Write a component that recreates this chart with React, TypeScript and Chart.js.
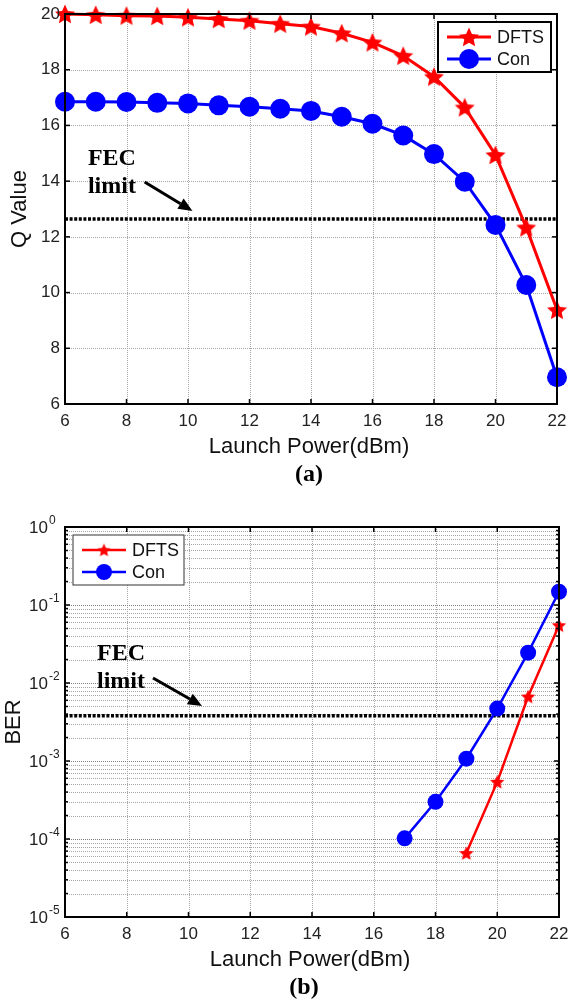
import React, { useEffect, useRef } from 'react';
import { Chart, registerables } from 'chart.js';

Chart.register(...registerables);

// ---------- data ----------
const powers = [6, 7, 8, 9, 10, 11, 12, 13, 14, 15, 16, 17, 18, 19, 20, 21, 22];
const xTicks = [6, 8, 10, 12, 14, 16, 18, 20, 22];
const qTicks = [6, 8, 10, 12, 14, 16, 18, 20];
const berExps = [-5, -4, -3, -2, -1, 0];
const seriesNames = ['DFTS', 'Con'];

const qDFTS = [20.0, 19.97, 19.94, 19.93, 19.88, 19.82, 19.76, 19.65, 19.55, 19.31, 18.98, 18.5, 17.75, 16.65, 14.94, 12.34, 9.38];
const qCon = [16.85, 16.85, 16.84, 16.81, 16.79, 16.72, 16.67, 16.6, 16.52, 16.31, 16.06, 15.64, 14.97, 13.98, 12.43, 10.27, 6.96];

const berDFTS: (number | null)[] = [null, null, null, null, null, null, null, null, null, null, null, null, null, 6.6e-5, 5.4e-4, 6.7e-3, 5.5e-2];
const berCon: (number | null)[] = [null, null, null, null, null, null, null, null, null, null, null, 1.02e-4, 3.0e-4, 1.07e-3, 4.7e-3, 2.45e-2, 0.148];

const qFec = 12.64;
const berFec = 3.8e-3;

const xTitle = 'Launch Power(dBm)';
const qTitle = 'Q Value';
const berTitle = 'BER';

// ---------- styles ----------
const SANS = '"Liberation Sans", Arial, sans-serif';
const SERIF = '"Liberation Serif", "Times New Roman", serif';
const RED = '#ff0000';
const BLUE = '#0000ff';
const W = 571;

function makeStar(size: number, color: string): HTMLCanvasElement {
  const c = document.createElement('canvas');
  c.width = size;
  c.height = size;
  const g = c.getContext('2d')!;
  const cx = size / 2;
  const cy = size / 2 + size * 0.04;
  const R = size / 2 - 0.5;
  const r = R * 0.47;
  g.beginPath();
  for (let i = 0; i < 10; i++) {
    const a = -Math.PI / 2 + (i * Math.PI) / 5;
    const rad = i % 2 === 0 ? R : r;
    g.lineTo(cx + rad * Math.cos(a), cy + rad * Math.sin(a));
  }
  g.closePath();
  g.fillStyle = color;
  g.fill();
  return c;
}

function toPoints(vals: (number | null)[]) {
  const out: { x: number; y: number }[] = [];
  vals.forEach((v, i) => {
    if (v !== null) out.push({ x: powers[i], y: v });
  });
  return out;
}

type PanelCfg = {
  height: number;
  padTop: number;
  log: boolean;
  dfts: (number | null)[];
  con: (number | null)[];
  fec: number;
  yTitle: string;
  yTitleX: number;
  caption: string;
  captionX: number;
  starSize: number;
  legendStarSize: number;
  circleR: number;
  legendCircleR: number;
  lineW: number;
  fecText: { x: number; y1: number; y2: number };
  arrow: { x1: number; y1: number; x2: number; y2: number };
  legend: 'right' | 'left';
};

function drawLine(ctx: CanvasRenderingContext2D, x1: number, y1: number, x2: number, y2: number) {
  ctx.beginPath();
  ctx.moveTo(x1, y1);
  ctx.lineTo(x2, y2);
  ctx.stroke();
}

function buildConfig(p: PanelCfg): any {
  const star = makeStar(p.starSize, RED);
  const legendStar = makeStar(p.legendStarSize, RED);

  const yGridVals: { v: number; major: boolean }[] = [];
  if (p.log) {
    for (const e of berExps) {
      if (e === 0) {
        yGridVals.push({ v: 1, major: true });
        continue;
      }
      for (let m = 1; m <= 9; m++) yGridVals.push({ v: m * Math.pow(10, e), major: m === 1 });
    }
  } else {
    for (const v of qTicks) yGridVals.push({ v, major: true });
  }

  const plugin = {
    id: 'panelDecor',
    beforeDatasetsDraw(chart: any) {
      const { ctx, chartArea: a, scales } = chart;
      const xs = scales.x;
      const ys = scales.y;
      ctx.save();
      ctx.lineWidth = 1;
      ctx.setLineDash([1, 1]);
      ctx.strokeStyle = '#a6a6a6';
      for (const v of xTicks) {
        const px = Math.round(xs.getPixelForValue(v)) + 0.5;
        drawLine(ctx, px, a.top, px, a.bottom);
      }
      for (const g of yGridVals) {
        const py = Math.round(ys.getPixelForValue(g.v)) + 0.5;
        ctx.strokeStyle = p.log && g.major ? '#808080' : '#a6a6a6';
        drawLine(ctx, a.left, py, a.right, py);
      }
      ctx.restore();
    },
    afterDraw(chart: any) {
      const { ctx, chartArea: a, scales } = chart;
      const xs = scales.x;
      const ys = scales.y;
      ctx.save();
      ctx.setLineDash([]);

      // tick marks (inside)
      ctx.strokeStyle = '#000';
      ctx.lineWidth = 1.5;
      for (const v of xTicks) {
        const px = xs.getPixelForValue(v);
        drawLine(ctx, px, a.bottom, px, a.bottom - 5);
        drawLine(ctx, px, a.top, px, a.top + 5);
      }
      for (const g of yGridVals) {
        const py = ys.getPixelForValue(g.v);
        const len = g.major ? 5 : 3;
        drawLine(ctx, a.left, py, a.left + len, py);
        drawLine(ctx, a.right, py, a.right - len, py);
      }

      // box
      ctx.lineWidth = 2;
      ctx.strokeRect(a.left, a.top, a.right - a.left, a.bottom - a.top);

      // tick labels
      ctx.fillStyle = '#222';
      ctx.font = `17px ${SANS}`;
      ctx.textAlign = 'center';
      ctx.textBaseline = 'middle';
      for (const v of xTicks) {
        ctx.fillText(String(v), xs.getPixelForValue(v), a.bottom + 17);
      }
      if (p.log) {
        for (const e of berExps) {
          const py = ys.getPixelForValue(Math.pow(10, e));
          ctx.font = `17px ${SANS}`;
          ctx.textAlign = 'right';
          ctx.fillText('10', a.left - 17, py + 1);
          ctx.font = `12px ${SANS}`;
          ctx.textAlign = 'left';
          ctx.fillText(e === 0 ? '0' : String(e), a.left - 16, py - 6);
        }
      } else {
        ctx.textAlign = 'right';
        for (const v of qTicks) {
          ctx.fillText(String(v), a.left - 5, ys.getPixelForValue(v));
        }
      }

      // axis titles
      ctx.fillStyle = '#111';
      ctx.font = `22px ${SANS}`;
      ctx.textAlign = 'center';
      ctx.textBaseline = 'middle';
      ctx.fillText(xTitle, (a.left + a.right) / 2 - 2, a.bottom + 43);
      ctx.save();
      ctx.translate(p.yTitleX, (a.top + a.bottom) / 2);
      ctx.rotate(-Math.PI / 2);
      ctx.fillText(p.yTitle, 0, 0);
      ctx.restore();

      // caption
      ctx.fillStyle = '#000';
      ctx.font = `bold 24px ${SERIF}`;
      ctx.fillText(p.caption, p.captionX, a.bottom + 71);

      // FEC annotation
      ctx.font = `bold 24px ${SERIF}`;
      ctx.textAlign = 'left';
      ctx.textBaseline = 'alphabetic';
      const tx = xs.getPixelForValue(p.fecText.x);
      ctx.fillText('FEC', tx, ys.getPixelForValue(p.fecText.y1));
      ctx.fillText('limit', tx, ys.getPixelForValue(p.fecText.y2));

      const ax1 = xs.getPixelForValue(p.arrow.x1);
      const ay1 = ys.getPixelForValue(p.arrow.y1);
      const ax2 = xs.getPixelForValue(p.arrow.x2);
      const ay2 = ys.getPixelForValue(p.arrow.y2);
      const ang = Math.atan2(ay2 - ay1, ax2 - ax1);
      const headL = 14;
      const headW = 6;
      const bx = ax2 - headL * Math.cos(ang);
      const by = ay2 - headL * Math.sin(ang);
      ctx.strokeStyle = '#000';
      ctx.lineWidth = 3;
      drawLine(ctx, ax1, ay1, bx, by);
      ctx.beginPath();
      ctx.moveTo(ax2, ay2);
      ctx.lineTo(bx + headW * Math.sin(ang), by - headW * Math.cos(ang));
      ctx.lineTo(bx - headW * Math.sin(ang), by + headW * Math.cos(ang));
      ctx.closePath();
      ctx.fillStyle = '#000';
      ctx.fill();

      // legend
      const bw = p.legend === 'right' ? 113 : 111;
      const bh = 50;
      const bxL = p.legend === 'right' ? a.right - 6 - bw : a.left + 8;
      const byT = a.top + 8;
      ctx.fillStyle = '#fff';
      ctx.fillRect(bxL, byT, bw, bh);
      ctx.strokeStyle = p.legend === 'right' ? '#000' : '#333';
      ctx.lineWidth = p.legend === 'right' ? 2 : 1;
      ctx.strokeRect(bxL, byT, bw, bh);
      const rows = [byT + 15, byT + 37];
      const lx1 = bxL + 9;
      const lx2 = bxL + 53;
      const mx = (lx1 + lx2) / 2;
      ctx.lineWidth = p.lineW;
      // DFTS
      ctx.strokeStyle = RED;
      drawLine(ctx, lx1, rows[0], lx2, rows[0]);
      ctx.drawImage(legendStar, mx - legendStar.width / 2, rows[0] - legendStar.height / 2);
      // Con
      ctx.strokeStyle = BLUE;
      drawLine(ctx, lx1, rows[1], lx2, rows[1]);
      ctx.beginPath();
      ctx.arc(mx, rows[1], p.legendCircleR, 0, Math.PI * 2);
      ctx.fillStyle = BLUE;
      ctx.fill();
      ctx.fillStyle = '#111';
      ctx.font = `18px ${SANS}`;
      ctx.textAlign = 'left';
      ctx.textBaseline = 'middle';
      ctx.fillText(seriesNames[0], bxL + 59, rows[0] + 1);
      ctx.fillText(seriesNames[1], bxL + 59, rows[1] + 1);

      ctx.restore();
    },
  };

  const yScale: any = p.log
    ? { type: 'logarithmic', min: 1e-5, max: 1, display: false }
    : { type: 'linear', min: 6, max: 20, display: false };

  return {
    type: 'line',
    data: {
      datasets: [
        {
          label: seriesNames[0],
          data: toPoints(p.dfts),
          borderColor: RED,
          backgroundColor: RED,
          borderWidth: p.lineW,
          pointStyle: star,
          pointRadius: p.starSize / 2,
          tension: 0,
          clip: false,
        },
        {
          label: seriesNames[1],
          data: toPoints(p.con),
          borderColor: BLUE,
          backgroundColor: BLUE,
          borderWidth: p.lineW,
          pointStyle: 'circle',
          pointRadius: p.circleR,
          pointBorderWidth: 0,
          tension: 0,
          clip: false,
        },
        {
          label: 'FEC',
          data: [
            { x: powers[0], y: p.fec },
            { x: powers[powers.length - 1], y: p.fec },
          ],
          borderColor: '#000',
          borderWidth: 3.5,
          borderDash: [3, 1.6],
          pointRadius: 0,
          tension: 0,
        },
      ],
    },
    options: {
      animation: false,
      responsive: false,
      devicePixelRatio: 1,
      layout: { padding: { left: 65, right: 12, top: p.padTop, bottom: 86 } },
      plugins: { legend: { display: false }, tooltip: { enabled: false } },
      events: [],
      scales: {
        x: { type: 'linear', min: 6, max: 22, display: false },
        y: yScale,
      },
    },
    plugins: [plugin],
  };
}

const topPanel: PanelCfg = {
  height: 490,
  padTop: 14,
  log: false,
  dfts: qDFTS,
  con: qCon,
  fec: qFec,
  yTitle: qTitle,
  yTitleX: 20,
  caption: '(a)',
  captionX: 309,
  starSize: 22,
  legendStarSize: 22,
  circleR: 10,
  legendCircleR: 10,
  lineW: 3,
  fecText: { x: 6.745, y1: 14.58, y2: 13.575 },
  arrow: { x1: 8.59, y1: 13.97, x2: 10.146, y2: 12.93 },
  legend: 'right',
};

const bottomPanel: PanelCfg = {
  height: 513,
  padTop: 37,
  log: true,
  dfts: berDFTS,
  con: berCon,
  fec: berFec,
  yTitle: berTitle,
  yTitleX: 14,
  caption: '(b)',
  captionX: 304,
  starSize: 16,
  legendStarSize: 15,
  circleR: 8,
  legendCircleR: 8,
  lineW: 2.5,
  fecText: { x: 7.036, y1: 0.0197, y2: 8.63e-3 },
  arrow: { x1: 8.85, y1: 0.01159, x2: 10.437, y2: 5.07e-3 },
  legend: 'left',
};

function PanelChart({ cfg }: { cfg: PanelCfg }) {
  const ref = useRef<HTMLCanvasElement>(null);
  useEffect(() => {
    if (!ref.current) return;
    const chart = new Chart(ref.current, buildConfig(cfg));
    return () => chart.destroy();
  }, [cfg]);
  return (
    <canvas
      ref={ref}
      width={W}
      height={cfg.height}
      style={{ display: 'block', width: W, height: cfg.height }}
    />
  );
}

export default function App() {
  return (
    <div style={{ position: 'absolute', left: 0, top: 0, width: W, height: 1003, background: '#fff' }}>
      <PanelChart cfg={topPanel} />
      <PanelChart cfg={bottomPanel} />
    </div>
  );
}
